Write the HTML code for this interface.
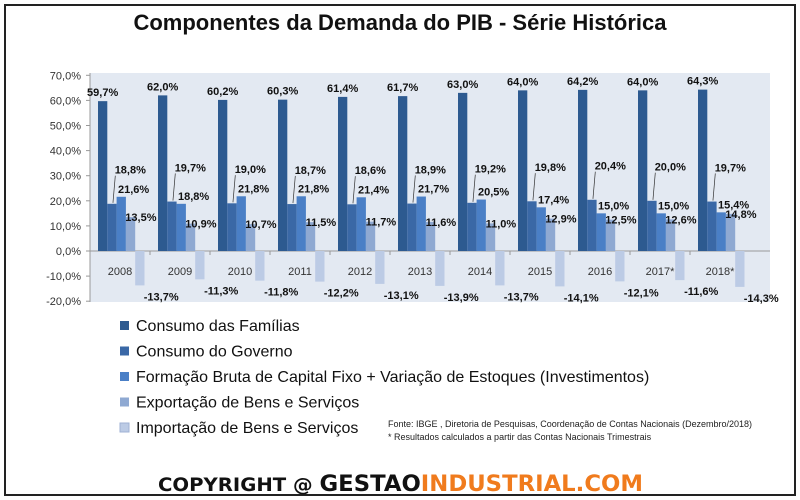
<!DOCTYPE html>
<html><head><meta charset="utf-8"><style>
body{margin:0;background:#fff;}
#wrap{position:relative;width:800px;height:500px;overflow:hidden;font-family:"Liberation Sans",sans-serif;}
</style></head><body>
<div id="wrap">
<svg id="chart" width="800" height="500">
<rect x="5" y="5" width="790" height="490" fill="#fff" stroke="#222" stroke-width="2"/>
<text x="400" y="30" text-anchor="middle" font-size="22" font-weight="bold" fill="#111">Componentes da Demanda do PIB - Série Histórica</text>
<rect x="90" y="73" width="680" height="229" fill="#e3e9f2"/>
<g id="axes"></g>
<g id="bars"></g>
<g id="labels"></g>
<g id="legend"></g>
<text x="388" y="427" font-size="9" fill="#222" textLength="364">Fonte: IBGE , Diretoria de Pesquisas,  Coordenação de Contas Nacionais (Dezembro/2018)</text>
<text x="388" y="440" font-size="9" fill="#222">* Resultados calculados a partir das Contas Nacionais Trimestrais</text>
<text x="158" y="491" font-size="22" font-weight="bold" font-family="'DejaVu Sans',sans-serif" textLength="485" lengthAdjust="spacingAndGlyphs"><tspan fill="#111" font-size="19">COPYRIGHT @ </tspan><tspan fill="#111">GESTAO</tspan><tspan fill="#f07b1d">INDUSTRIAL.COM</tspan></text>
</svg>
</div>
<script>
const categories=["2008","2009","2010","2011","2012","2013","2014","2015","2016","2017*","2018*"];
const familias=[59.7,62.0,60.2,60.3,61.4,61.7,63.0,64.0,64.2,64.0,64.3];
const governo=[18.8,19.7,19.0,18.7,18.6,18.9,19.2,19.8,20.4,20.0,19.7];
const investimentos=[21.6,18.8,21.8,21.8,21.4,21.7,20.5,17.4,15.0,15.0,15.4];
const exportacao=[13.5,10.9,10.7,11.5,11.7,11.6,11.0,12.9,12.5,12.6,14.8];
const importacao=[-13.7,-11.3,-11.8,-12.2,-13.1,-13.9,-13.7,-14.1,-12.1,-11.6,-14.3];
const yTicks=[70,60,50,40,30,20,10,0,-10,-20];
const seriesNames=["Consumo das Famílias","Consumo do Governo","Formação Bruta de Capital Fixo + Variação de Estoques (Investimentos)","Exportação de Bens e Serviços","Importação de Bens e Serviços"];
const NS="http://www.w3.org/2000/svg";
const colors=["#2d5a90","#3a68a6","#4a7fc6","#8fa9d2","#bccbe5"];
const series=[familias,governo,investimentos,exportacao,importacao];
const y=v=>251-v*2.51;
const catX=i=>90+i*60;
const bw=9.3;
function el(t,a,p){const e=document.createElementNS(NS,t);for(const k in a)e.setAttribute(k,a[k]);document.getElementById(p).appendChild(e);return e;}
const fmt=v=>v.toFixed(1).replace('.',',')+'%';
yTicks.forEach(t=>{
  const tx=el('text',{x:81,y:y(t)+4,'text-anchor':'end','font-size':11,fill:'#333'},'axes');tx.textContent=t.toFixed(1).replace('.',',')+'%';
  
  
  el('line',{x1:86,x2:90,y1:y(t),y2:y(t),stroke:'#999'},'axes');
});
el('line',{x1:90,x2:90,y1:73,y2:302,stroke:'#999'},'axes');
el('line',{x1:90,x2:770,y1:y(0),y2:y(0),stroke:'#999'},'axes');
categories.forEach((c,i)=>{
  const tx=el('text',{x:catX(i)+30,y:275,'text-anchor':'middle','font-size':11,fill:'#333'},'axes');tx.textContent=c;
  
  
  el('line',{x1:catX(i),x2:catX(i),y1:y(0),y2:y(0)+4,stroke:'#999'},'axes');
});
series.forEach((s,si)=>{
  s.forEach((v,i)=>{
    const x=catX(i)+8+si*bw;
    const r=el('rect',{x:x,y:Math.min(y(v),y(0)),width:bw,height:Math.abs(y(v)-y(0)),fill:colors[si]},'bars');
    
    
    let lx,ly,anchor='middle';
    if(si===0){lx=x+bw/2;ly=y(v)-5;}
    else if(si===1){lx=x+23;ly=y(v+12);el('line',{x1:x+bw/2+1,y1:y(v)-1,x2:x+8,y2:ly+2,stroke:'#333','stroke-width':0.7},'labels');}
    else if(si===2){lx=x+17;ly=y(v)-4;}
    else if(si===3){lx=x+15;ly=y(v)+4;}
    else {lx=x+26;ly=y(v)+15;}
    const t=el('text',{x:lx,y:ly,'text-anchor':anchor,'font-size':11,'font-weight':'bold',fill:'#111'},'labels');
    t.textContent=fmt(v);
    
    
  });
});
seriesNames.forEach((n,i)=>{
  const yy=327+i*25.5;
  const sq=el('rect',{x:120,y:yy-6,width:9,height:9,fill:colors[i],stroke:i===4?'#9fb2d4':'none'},'legend');
  
  
  const t=el('text',{x:136,y:yy+4,'font-size':16,fill:'#111'},'legend');t.textContent=n;
  
  
});
</script>
</body></html>
